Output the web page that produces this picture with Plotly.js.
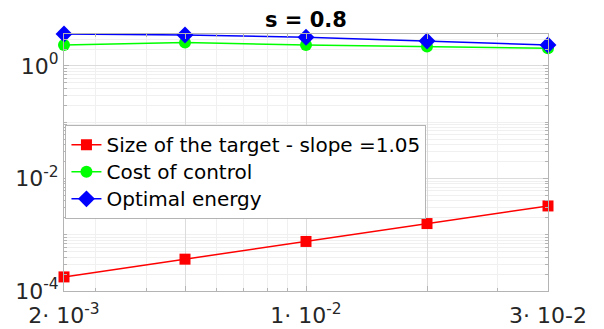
<!DOCTYPE html>
<html>
<head>
<meta charset="utf-8">
<script src="https://cdn.plot.ly/plotly-3.0.1.min.js"></script>
<style>html,body{margin:0;padding:0;background:#fff;}#chart{width:604px;height:329px;}</style>
</head>
<body>
<div id="chart"></div>
<script>
// ---- data ----
var xValues = [2.5e-3, 5e-3, 1e-2, 2e-2, 4e-2];
var targetSize = [1.78e-4, 3.68e-4, 7.6e-4, 1.58e-3, 3.25e-3];
var costControl = [2.36, 2.6, 2.36, 2.22, 2.06];
var optimalEnergy = [3.7, 3.56, 3.24, 2.78, 2.36];
var seriesNames = ["Size of the target - slope =1.05", "Cost of control", "Optimal energy"];
var xTickText = ["2\u00b7 10<sup>-3</sup>", "", "1\u00b7 10<sup>-2</sup>", "", "3\u00b7 10-2"];
var yTickVals = [1e-4, 1e-2, 1];
var yTickText = ["10<sup>-4</sup>", "10<sup>-2</sup>", "10<sup>0</sup>"];
var xMinorVals = [3e-3, 4e-3, 6e-3, 7e-3, 8e-3, 9e-3, 3e-2];
var chartTitle = "s = 0.8";

// minor y grid: every k*10^n that is not a labelled tick
var yMinorVals = [];
for (var n = -4; n <= 0; n++) {
  for (var k = 1; k <= 9; k++) {
    var v = k * Math.pow(10, n);
    if (!(k === 1 && (n === -4 || n === -2 || n === 0))) yMinorVals.push(v);
  }
}

var font = "DejaVu Sans, sans-serif";
function trace(y, name, color, symbol, size) {
  return {
    x: xValues, y: y, type: "scatter", mode: "lines+markers",
    name: '<span style="font-size:20px">' + name + '</span>',
    cliponaxis: false,
    line: {color: color, width: 1.5},
    marker: {color: color, symbol: symbol, size: size}
  };
}
var data = [
  trace(targetSize, seriesNames[0], "#ff0000", "square", 11),
  trace(costControl, seriesNames[1], "#00ff00", "circle", 12),
  trace(optimalEnergy, seriesNames[2], "#0000ff", "diamond", 13)
];

var yTop = Math.log10(Math.max.apply(null, optimalEnergy));
var layout = {
  width: 604, height: 329,
  margin: {l: 64, r: 55.5, t: 34, b: 38, pad: 0},
  paper_bgcolor: "#fff", plot_bgcolor: "#fff",
  font: {family: font, color: "#262626"},
  title: {text: "<b>" + chartTitle + "</b>", font: {family: font, size: 21, color: "#000"}, x: 0.5, xanchor: "center", y: 0.94, yanchor: "middle", xref: "paper"},
  showlegend: true,
  legend: {
    x: 0.003, y: 0.645, xanchor: "left", yanchor: "top",
    bgcolor: "#fff", bordercolor: "#b4b4b4", borderwidth: 1,
    itemwidth: 30,
    font: {family: font, size: 18.5, color: "#000"}
  },
  xaxis: {
    type: "log",
    range: [Math.log10(xValues[0]), Math.log10(xValues[xValues.length - 1])],
    tickmode: "array", tickvals: xValues, ticktext: xTickText,
    tickfont: {family: font, size: 22, color: "#262626"},
    ticks: "inside", ticklen: 5, tickcolor: "#b4b4b4",
    showline: true, linecolor: "#b4b4b4", linewidth: 1, mirror: "ticks",
    showgrid: true, gridcolor: "#dcdcdc", gridwidth: 1,
    zeroline: false,
    ticklabelstandoff: 5,
    minor: {tickmode: "array", tickvals: xMinorVals, ticks: "inside", ticklen: 3, tickcolor: "#b4b4b4", showgrid: true, gridcolor: "#f0f0f0", gridwidth: 1}
  },
  yaxis: {
    type: "log",
    range: [-4, yTop],
    tickmode: "array", tickvals: yTickVals, ticktext: yTickText,
    tickfont: {family: font, size: 22, color: "#262626"},
    ticks: "inside", ticklen: 5, tickcolor: "#b4b4b4",
    showline: true, linecolor: "#b4b4b4", linewidth: 1, mirror: "ticks",
    showgrid: true, gridcolor: "#dcdcdc", gridwidth: 1,
    zeroline: false,
    minor: {tickmode: "array", tickvals: yMinorVals, ticks: "inside", ticklen: 3, tickcolor: "#b4b4b4", showgrid: true, gridcolor: "#f0f0f0", gridwidth: 1}
  }
};
Plotly.newPlot("chart", data, layout, {displayModeBar: false, staticPlot: true});
</script>
</body>
</html>
